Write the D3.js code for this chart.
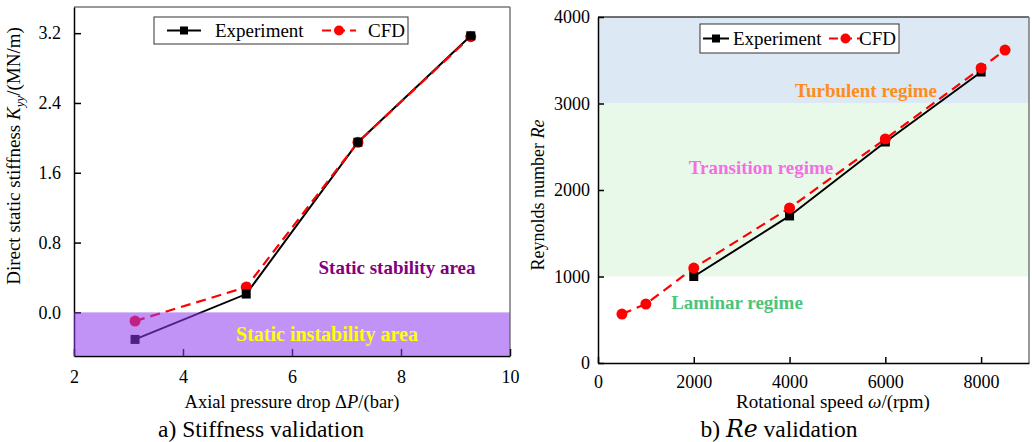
<!DOCTYPE html>
<html>
<head>
<meta charset="utf-8">
<script src="https://cdn.jsdelivr.net/npm/d3@7"></script>
<style>
  body { margin: 0; background: #fff; }
  svg text { font-family: "Liberation Serif", "Times New Roman", serif; }
</style>
</head>
<body>
<script>
// chart a) stiffness
const dpExp = [3.12, 5.16, 7.21, 9.28]
const kExp = [-0.31, 0.21, 1.95, 3.17]
const dpCfd = [3.12, 5.16, 7.21, 9.28]
const kCfd = [-0.10, 0.29, 1.95, 3.16]
const kTicks = [0.0, 0.8, 1.6, 2.4, 3.2]
const dpTicks = [2, 4, 6, 8, 10]

// chart b) Re
const rpmExp = [2000, 4000, 6000, 8000]
const reExp = [1000, 1700, 2555, 3364]
const rpmCfd = [500, 1000, 2000, 4000, 6000, 8000, 8500]
const reCfd = [566, 682, 1098, 1792, 2590, 3410, 3618]
const reTicks = [0, 1000, 2000, 3000, 4000]
const rpmTicks = [0, 2000, 4000, 6000, 8000]

const svg = d3.select('body').append('svg')
  .attr('width', 1032)
  .attr('height', 442)

function drawLegend (g, x, y, w, h, pos) {
  g.append('rect').attr('x', x).attr('y', y).attr('width', w).attr('height', h)
    .attr('fill', '#fff').attr('stroke', '#333').attr('stroke-width', 1)
  const cy = y + h / 2
  g.append('line').attr('x1', pos[0]).attr('x2', pos[1]).attr('y1', cy).attr('y2', cy)
    .attr('stroke', '#000').attr('stroke-width', 2)
  g.append('rect').attr('x', (pos[0] + pos[1]) / 2 - 4).attr('y', cy - 4)
    .attr('width', 8).attr('height', 8).attr('fill', '#000')
  g.append('text').attr('x', pos[2]).attr('y', cy + 6).style('font-size', '19px').text('Experiment')
  g.append('line').attr('x1', pos[3]).attr('x2', pos[4]).attr('y1', cy).attr('y2', cy)
    .attr('stroke', '#f00').attr('stroke-width', 2).attr('stroke-dasharray', '9,5')
  g.append('circle').attr('cx', (pos[3] + pos[4]) / 2).attr('cy', cy).attr('r', 5).attr('fill', '#f00')
  g.append('text').attr('x', pos[5]).attr('y', cy + 6).style('font-size', '19px').text('CFD')
}

// ---------- chart a ----------
{
  const L = 74, R = 510, T = 7, B = 356
  const x = d3.scaleLinear().domain([2, 10]).range([L, R])
  const y = d3.scaleLinear().domain([-0.5, 3.5]).range([B, T])
  const g = svg.append('g')

  g.append('line').attr('x1', L).attr('x2', R).attr('y1', T).attr('y2', T).attr('stroke', '#777').attr('stroke-width', 1.5)
  g.append('line').attr('x1', R).attr('x2', R).attr('y1', T).attr('y2', B).attr('stroke', '#777').attr('stroke-width', 1.5)

  g.append('g').attr('transform', `translate(0,${B})`)
    .call(d3.axisBottom(x).tickValues(dpTicks).tickSizeInner(-7).tickSizeOuter(0).tickPadding(14))
  g.append('g').attr('transform', `translate(${L},0)`)
    .call(d3.axisLeft(y).tickValues(kTicks).tickFormat(d3.format('.1f')).tickSizeInner(-7).tickSizeOuter(0).tickPadding(13))
  g.selectAll('.tick text').attr('font-family', null).style('font-size', '18px')
  g.selectAll('.domain, .tick line').attr('stroke', '#000').attr('stroke-width', 1.5)

  const cfd = dpCfd.map((d, i) => [d, kCfd[i]])
  const exp = dpExp.map((d, i) => [d, kExp[i]])
  const line = d3.line().x(d => x(d[0])).y(d => y(d[1]))
  g.append('path').attr('d', line(exp)).attr('fill', 'none').attr('stroke', '#000').attr('stroke-width', 2)
  g.append('path').attr('d', line(cfd)).attr('fill', 'none').attr('stroke', '#f00').attr('stroke-width', 2.2).attr('stroke-dasharray', '10,6')
  g.selectAll('.cfdA').data(cfd).enter().append('circle')
    .attr('cx', d => x(d[0])).attr('cy', d => y(d[1])).attr('r', 5.5).attr('fill', '#f00')
  g.selectAll('.expA').data(exp).enter().append('rect')
    .attr('x', d => x(d[0]) - 4.5).attr('y', d => y(d[1]) - 4.5).attr('width', 9).attr('height', 9).attr('fill', '#000')

  // instability band drawn over the lines
  g.append('rect').attr('x', L).attr('y', y(0)).attr('width', R - L).attr('height', y(-0.5) - y(0))
    .attr('fill', '#8f3bef').attr('opacity', 0.55)

  g.append('text').attr('x', 397).attr('y', 274).attr('text-anchor', 'middle')
    .style('font-size', '19px').style('font-weight', 'bold').attr('fill', '#800080').text('Static stability area')
  g.append('text').attr('x', 327).attr('y', 341).attr('text-anchor', 'middle')
    .style('font-size', '20px').style('font-weight', 'bold').attr('fill', '#ffff00').text('Static instability area')

  drawLegend(g, 154, 17, 254, 27, [167, 201, 215, 322, 356, 368])

  g.append('text').attr('x', 292).attr('y', 408).attr('text-anchor', 'middle').style('font-size', '18.5px')
    .html('Axial pressure drop Δ<tspan font-style="italic">P</tspan>/(bar)')
  g.append('text').attr('transform', 'translate(20,156) rotate(-90)').attr('text-anchor', 'middle').style('font-size', '19px')
    .html('Direct static stiffness <tspan font-style="italic">K</tspan><tspan font-style="italic" font-size="13px" dy="4">yy</tspan><tspan dy="-4">/(MN/m)</tspan>')
  g.append('text').attr('x', 261).attr('y', 437).attr('text-anchor', 'middle').style('font-size', '23.5px')
    .text('a) Stiffness validation')
}

// ---------- chart b ----------
{
  const L = 598, R = 1029, T = 17, B = 363
  const x = d3.scaleLinear().domain([0, 9000]).range([L, R])
  const y = d3.scaleLinear().domain([0, 4000]).range([B, T])
  const g = svg.append('g')

  g.append('rect').attr('x', L).attr('y', y(4000)).attr('width', R - L).attr('height', y(3000) - y(4000)).attr('fill', '#dce8f3')
  g.append('rect').attr('x', L).attr('y', y(3000)).attr('width', R - L).attr('height', y(1000) - y(3000)).attr('fill', '#e9f9e9')

  g.append('line').attr('x1', L).attr('x2', R).attr('y1', T).attr('y2', T).attr('stroke', '#444').attr('stroke-width', 1.5)
  g.append('line').attr('x1', R).attr('x2', R).attr('y1', T).attr('y2', B).attr('stroke', '#777').attr('stroke-width', 1.5)

  g.append('g').attr('transform', `translate(0,${B})`)
    .call(d3.axisBottom(x).tickValues(rpmTicks).tickFormat(d3.format('d')).tickSizeInner(-6).tickSizeOuter(0).tickPadding(12))
  g.append('g').attr('transform', `translate(${L},0)`)
    .call(d3.axisLeft(y).tickValues(reTicks).tickFormat(d3.format('d')).tickSizeInner(-6).tickSizeOuter(0).tickPadding(8))
  g.selectAll('.tick text').attr('font-family', null).style('font-size', '18px')
  g.selectAll('.domain, .tick line').attr('stroke', '#000').attr('stroke-width', 1.5)

  const cfd = rpmCfd.map((d, i) => [d, reCfd[i]])
  const exp = rpmExp.map((d, i) => [d, reExp[i]])
  const line = d3.line().x(d => x(d[0])).y(d => y(d[1]))
  g.append('path').attr('d', line(exp)).attr('fill', 'none').attr('stroke', '#000').attr('stroke-width', 2)
  g.append('path').attr('d', line(cfd)).attr('fill', 'none').attr('stroke', '#f00').attr('stroke-width', 2.2).attr('stroke-dasharray', '10,6')
  g.selectAll('.expB').data(exp).enter().append('rect')
    .attr('x', d => x(d[0]) - 4.5).attr('y', d => y(d[1]) - 4.5).attr('width', 9).attr('height', 9).attr('fill', '#000')
  g.selectAll('.cfdB').data(cfd).enter().append('circle')
    .attr('cx', d => x(d[0])).attr('cy', d => y(d[1])).attr('r', 5.5).attr('fill', '#f00')

  g.append('text').attr('x', 866).attr('y', 97).attr('text-anchor', 'middle')
    .style('font-size', '19px').style('font-weight', 'bold').attr('fill', '#ff8c1a').text('Turbulent regime')
  g.append('text').attr('x', 761).attr('y', 174).attr('text-anchor', 'middle')
    .style('font-size', '19px').style('font-weight', 'bold').attr('fill', '#f46ee4').text('Transition regime')
  g.append('text').attr('x', 737).attr('y', 309).attr('text-anchor', 'middle')
    .style('font-size', '19px').style('font-weight', 'bold').attr('fill', '#4cc47a').text('Laminar regime')

  drawLegend(g, 700, 24, 199, 29, [703, 729, 733, 829, 862, 859])

  g.append('text').attr('x', 833).attr('y', 408).attr('text-anchor', 'middle').style('font-size', '19px')
    .html('Rotational speed <tspan font-style="italic">ω</tspan>/(rpm)')
  g.append('text').attr('transform', 'translate(544,195) rotate(-90)').attr('text-anchor', 'middle').style('font-size', '18px')
    .html('Reynolds number <tspan font-style="italic">Re</tspan>')
  g.append('text').attr('x', 779).attr('y', 437).attr('text-anchor', 'middle').style('font-size', '23.5px')
    .html('b) <tspan font-style="italic" font-family="DejaVu Serif">Re</tspan> validation')
}
</script>
</body>
</html>
